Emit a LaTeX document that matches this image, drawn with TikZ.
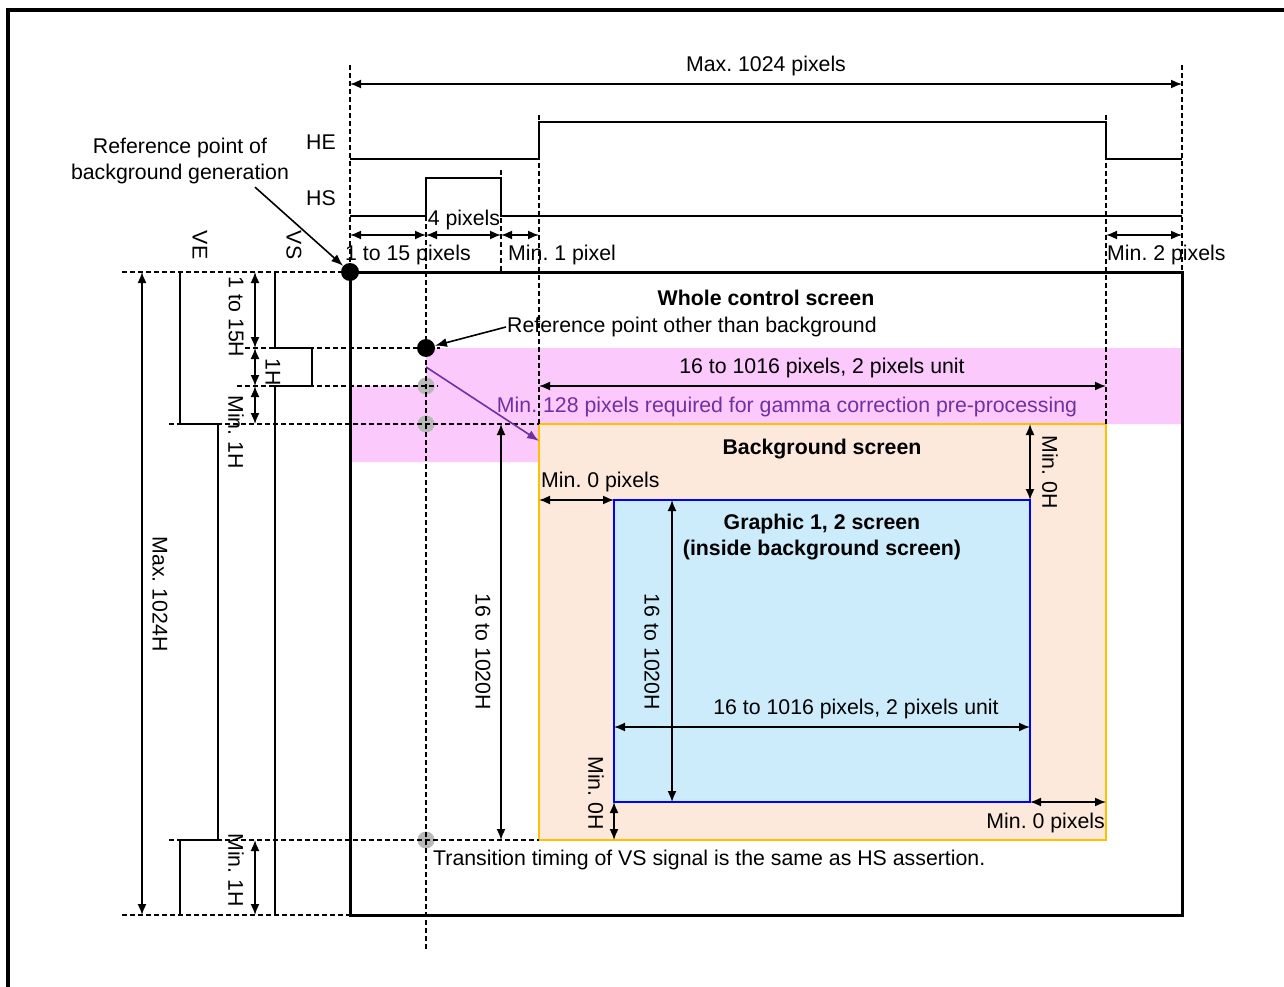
\documentclass[tikz,border=0pt]{standalone}
\usepackage{fontspec}
\setmainfont{Liberation Sans}
\usetikzlibrary{arrows.meta}
\definecolor{bandpink}{RGB}{251,201,251}
\definecolor{bgpeach}{RGB}{252,233,220}
\definecolor{gfxblue}{RGB}{204,236,252}
\definecolor{bgorange}{RGB}{255,192,0}
\definecolor{gammapurple}{RGB}{112,48,160}
\frenchspacing
\begin{document}
\begin{tikzpicture}[x=1pt,y=-1pt,
		txt/.style={inner sep=1pt,font=\fontsize{21.3}{26}\selectfont},
		lbl/.style={txt,yshift=-2pt},
		vlbl/.style={txt,rotate=-90},
		hdr/.style={lbl,font=\fontsize{21.3}{26}\selectfont\bfseries},
		guide/.style={line width=1.6pt,dash pattern=on 5pt off 3pt},
		sig/.style={line width=2pt},
		dim/.style={{Latex[length=11pt,width=9pt]}-{Latex[length=11pt,width=9pt]},line width=1.6pt},
		pointer/.style={-{Latex[length=12pt,width=9pt]},line width=1.6pt},
		blackdot/.style={circle,fill=black,inner sep=0pt,minimum size=18pt},
		graydot/.style={circle,fill=black!28,inner sep=0pt,minimum size=17pt}]
	\useasboundingbox (0,0) rectangle (1284,987);
	% frame
	\draw[line width=3.5pt] (8,987) -- (8,10) -- (1284,10);
	% screens
	\fill[bandpink] (426,348) -- (1182,348) -- (1182,424) -- (539,424) -- (539,462) -- (350,462) -- (350,386) -- (426,386) -- cycle;
	\draw[fill=bgpeach,draw=bgorange,line width=2.4pt] (539,424) rectangle (1106,840);
	\draw[fill=gfxblue,draw=blue,line width=2.8pt] (614,500) rectangle (1030,802);
	\draw[line width=3pt] (350,272) rectangle (1182,915);
	% gray markers
	\node[graydot] (hsmark) at (426,386) {};
	\node[graydot] (vemark) at (426,424) {};
	\node[graydot] (vsmark) at (426,840) {};
	% guide lines
	\draw[guide] (350,65) -- (350,272);
	\draw[guide] (426,216) -- (426,950);
	\draw[guide] (501,170) -- (501,272);
	\draw[guide] (539,115) -- (539,424);
	\draw[guide] (1106,115) -- (1106,424);
	\draw[guide] (1182,65) -- (1182,272);
	\draw[guide] (122,272) -- (350,272);
	\draw[guide] (245,348) -- (440,348);
	\draw[guide] (237,386) -- (438,386);
	\draw[guide] (169,424) -- (539,424);
	\draw[guide] (169,840) -- (539,840);
	\draw[guide] (122,915) -- (350,915);
	% signals
	\draw[sig] (350,159) -- (539,159) -- (539,122) -- (1106,122) -- (1106,159) -- (1182,159);
	\draw[sig] (350,216) -- (426,216) -- (426,178) -- (501,178) -- (501,216) -- (1182,216);
	\draw[sig] (180,272) -- (180,424) -- (218,424) -- (218,840) -- (180,840) -- (180,915);
	\draw[sig] (275,272) -- (275,348) -- (312,348) -- (312,386) -- (275,386) -- (275,915);
	% dimensions
	\draw[dim] (350,84) -- (1182,84);
	\draw[dim] (350,235) -- (426,235);
	\draw[dim] (426,235) -- (501,235);
	\draw[dim] (501,235) -- (539,235);
	\draw[dim] (1106,235) -- (1182,235);
	\draw[dim] (539,386) -- (1106,386);
	\draw[dim] (539,500) -- (614,500);
	\draw[dim] (1030,424) -- (1030,500);
	\draw[dim] (672,500) -- (672,802);
	\draw[dim] (614,727) -- (1030,727);
	\draw[dim] (614,802) -- (614,840);
	\draw[dim] (1030,802) -- (1106,802);
	\draw[dim] (501,424) -- (501,840);
	\draw[dim] (142,272) -- (142,915);
	\draw[dim] (255,272) -- (255,348);
	\draw[dim] (255,348) -- (255,386);
	\draw[dim] (255,386) -- (255,424);
	\draw[dim] (255,840) -- (255,915);
	% reference points
	\node[blackdot] (origin) at (350,272) {};
	\node[blackdot] (refpt) at (426,348) {};
	\draw[gammapurple,pointer] (426,367) -- (539,441);
	% labels
	\node[lbl] (maxw) at (766,64) {Max. 1024 pixels};
	\node[lbl] (helbl) at (321,140) {HE};
	\node[lbl] (hslbl) at (321,196) {HS};
	\node[lbl,align=center] (refbg) at (180,159) {Reference point of\\background generation};
	\node[lbl,anchor=west] (hsfront) at (344,253) {1 to 15 pixels};
	\node[lbl] (hswidth) at (464,218) {4 pixels};
	\node[lbl,anchor=west] (hsback) at (507,253) {Min. 1 pixel};
	\node[lbl,anchor=west] (heback) at (1106,253) {Min. 2 pixels};
	\node[vlbl] (velbl) at (200,245) {VE};
	\node[vlbl] (vslbl) at (294,245) {VS};
	\node[hdr] (whole) at (766,296) {Whole control screen};
	\node[lbl,anchor=west] (refother) at (506,325) {Reference point other than background};
	\node[lbl] (bgwidth) at (822,366) {16 to 1016 pixels, 2 pixels unit};
	\node[lbl,text=gammapurple] (gamma) at (787,405) {Min. 128 pixels required for gamma correction pre-processing};
	\node[hdr] (bgtitle) at (822,447) {Background screen};
	\node[lbl,anchor=west] (gfxleft) at (540,480) {Min. 0 pixels};
	\node[vlbl] (gfxtop) at (1050,472) {Min. 0H};
	\node[hdr,align=center] (gfxtitle) at (822,535) {Graphic 1, 2 screen\\(inside background screen)};
	\node[vlbl] (gfxheight) at (652,652) {16 to 1020H};
	\node[lbl] (gfxwidth) at (856,707) {16 to 1016 pixels, 2 pixels unit};
	\node[vlbl] (gfxbottom) at (596,793) {Min. 0H};
	\node[lbl,anchor=east] (gfxright) at (1106,821) {Min. 0 pixels};
	\node[lbl,anchor=west] (vsnote) at (432,858) {Transition timing of VS signal is the same as HS assertion.};
	\node[vlbl] (bgheight) at (483,652) {16 to 1020H};
	\node[vlbl] (maxh) at (160,594) {Max. 1024H};
	\node[vlbl] (vsfront) at (236,317) {1 to 15H};
	\node[vlbl] (vswidth) at (273,372) {1H};
	\node[vlbl] (veback) at (236,432) {Min. 1H};
	\node[vlbl] (vefront) at (236,870) {Min. 1H};
	% pointers
	\draw[pointer] ([xshift=75pt,yshift=-2pt]refbg.south) -- (origin);
	\draw[pointer] (refother.west) -- (refpt);
\end{tikzpicture}
\end{document}
